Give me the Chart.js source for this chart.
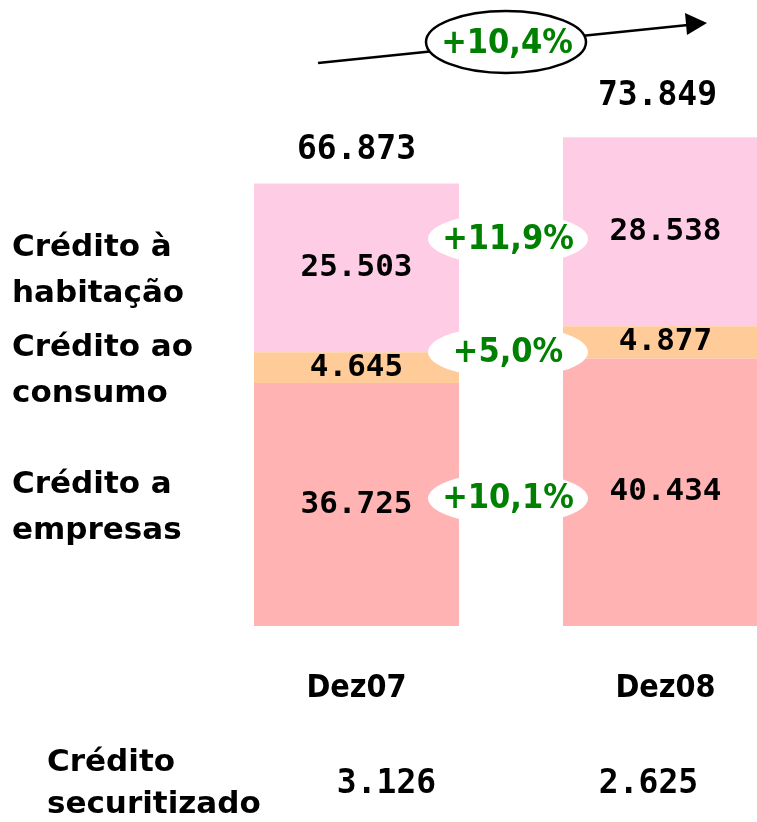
<!DOCTYPE html>
<html>
<head>
<meta charset="utf-8">
<script src="https://cdn.jsdelivr.net/npm/chart.js@4/dist/chart.umd.min.js"></script>
<style>
    html, body { margin: 0; padding: 0; background: #fff; overflow: hidden; }
    #chart { display: block; }
</style>
</head>
<body>
<canvas id="chart" width="830" height="822" style="width:830px;height:822px"></canvas>
<script>
    'use strict';
    // valores (milhões de euros)
    var categories = ['Dez07', 'Dez08'];
    var empresas = [36725, 40434];
    var consumo = [4645, 4877];
    var habitacao = [25503, 28538];
    var totais = [66873, 73849];
    var securitizado = [3126, 2625];
    var seriesLabels = [['Crédito a', 'empresas'], ['Crédito ao', 'consumo'], ['Crédito à', 'habitação']];
    var seriesColors = ['#FFB3B3', '#FFCC99', '#FFCCE6'];

    var GREEN = '#008000';
    var LABEL = 'bold 31px "DejaVu Sans"';
    var PCT = 'bold 34px "DejaVu Sans Condensed"';
    var MONO = 'bold 31px "DejaVu Sans Mono"';
    var MONO_BIG = 'bold 33px "DejaVu Sans Mono"';

    function fmt(v) {
        return String(v).replace(/\B(?=(\d{3})+(?!\d))/g, '.');
    }

    function growth(a, b) {
        return '+' + ((b / a - 1) * 100).toFixed(1).replace('.', ',') + '%';
    }

    function whiteEllipse(ctx, x, y, rx, ry, stroke) {
        ctx.beginPath();
        ctx.ellipse(x, y, rx, ry, 0, 0, Math.PI * 2);
        ctx.fillStyle = '#fff';
        ctx.fill();
        if (stroke) {
            ctx.lineWidth = 2.5;
            ctx.strokeStyle = '#000';
            ctx.stroke();
        }
    }

    var annotations = {
        id: 'annotations',
        afterDatasetsDraw: function (chart) {
            var ctx = chart.ctx;
            var sets = chart.data.datasets;
            ctx.save();
            ctx.textAlign = 'center';
            ctx.textBaseline = 'middle';

            // segment values
            sets.forEach(function (ds, i) {
                chart.getDatasetMeta(i).data.forEach(function (bar, j) {
                    ctx.font = MONO;
                    ctx.fillStyle = '#000';
                    ctx.fillText(fmt(ds.data[j]), bar.x, (bar.y + bar.base) / 2);
                });
            });

            // growth bubbles between bars
            var yOffsets = [0, -3, -11];
            sets.forEach(function (ds, i) {
                var bars = chart.getDatasetMeta(i).data;
                var m0 = (bars[0].y + bars[0].base) / 2;
                var m1 = (bars[1].y + bars[1].base) / 2;
                var cx = (bars[0].x + bars[1].x) / 2 - 3;
                var cy = (m0 + m1) / 2 + yOffsets[i];
                whiteEllipse(ctx, cx, cy, 80, 26, false);
                ctx.font = PCT;
                ctx.fillStyle = GREEN;
                ctx.fillText(growth(ds.data[0], ds.data[1]), cx, cy + 1);
            });

            // series labels on the left
            sets.forEach(function (ds, i) {
                var bar = chart.getDatasetMeta(i).data[0];
                var mid = (bar.y + bar.base) / 2 + 3;
                ctx.font = LABEL;
                ctx.fillStyle = '#000';
                ctx.textAlign = 'left';
                ctx.fillText(seriesLabels[i][0], 12, mid - 23);
                ctx.fillText(seriesLabels[i][1], 12, mid + 23);
                ctx.textAlign = 'center';
            });

            // totals on top of the bars
            var top = chart.getDatasetMeta(sets.length - 1).data;
            top.forEach(function (bar, j) {
                ctx.font = MONO_BIG;
                ctx.fillStyle = '#000';
                ctx.fillText(fmt(totais[j]), bar.x - 8 * j, bar.y - 33 - 8 * j);
            });

            // overall growth arrow
            ctx.beginPath();
            ctx.moveTo(318, 63);
            ctx.lineTo(688, 25);
            ctx.lineWidth = 2.5;
            ctx.strokeStyle = '#000';
            ctx.stroke();
            ctx.beginPath();
            ctx.moveTo(707, 23);
            ctx.lineTo(685, 13);
            ctx.lineTo(687, 35);
            ctx.closePath();
            ctx.fillStyle = '#000';
            ctx.fill();
            whiteEllipse(ctx, 506, 42, 80, 31, true);
            ctx.font = PCT;
            ctx.fillStyle = GREEN;
            ctx.fillText(growth(totais[0], totais[1]), 507, 44);

            // securitised credit row
            ctx.font = LABEL;
            ctx.fillStyle = '#000';
            ctx.textAlign = 'left';
            ctx.fillText('Crédito', 47, 763);
            ctx.fillText('securitizado', 47, 805);
            ctx.textAlign = 'center';
            var shift = [30, -17];
            chart.getDatasetMeta(0).data.forEach(function (bar, j) {
                ctx.font = MONO_BIG;
                ctx.fillText(fmt(securitizado[j]), bar.x + shift[j], 784);
            });

            ctx.restore();
        }
    };

    var chartElement = document.getElementById('chart').getContext('2d');
    var chartObject = new Chart(chartElement, {
        type: 'bar',
        data: {
            labels: categories,
            datasets: [
                { label: 'Crédito a empresas', data: empresas, backgroundColor: seriesColors[0] },
                { label: 'Crédito ao consumo', data: consumo, backgroundColor: seriesColors[1] },
                { label: 'Crédito à habitação', data: habitacao, backgroundColor: seriesColors[2] }
            ]
        },
        options: {
            responsive: false,
            animation: false,
            devicePixelRatio: 1,
            layout: { padding: { left: 202, right: 10, top: 0, bottom: 0 } },
            datasets: {
                bar: { categoryPercentage: 1, barPercentage: 0.6634, borderWidth: 0 }
            },
            scales: {
                x: {
                    stacked: true,
                    grid: { display: false },
                    border: { display: false },
                    ticks: {
                        color: '#000',
                        padding: 35,
                        font: { family: '"DejaVu Sans Condensed"', weight: 'bold', size: 32 }
                    },
                    afterFit: function (scale) { scale.height = 196; }
                },
                y: {
                    stacked: true,
                    display: false,
                    min: 0,
                    max: 94600
                }
            },
            plugins: {
                legend: { display: false },
                tooltip: { enabled: false }
            }
        },
        plugins: [annotations]
    });
</script>
</body>
</html>
